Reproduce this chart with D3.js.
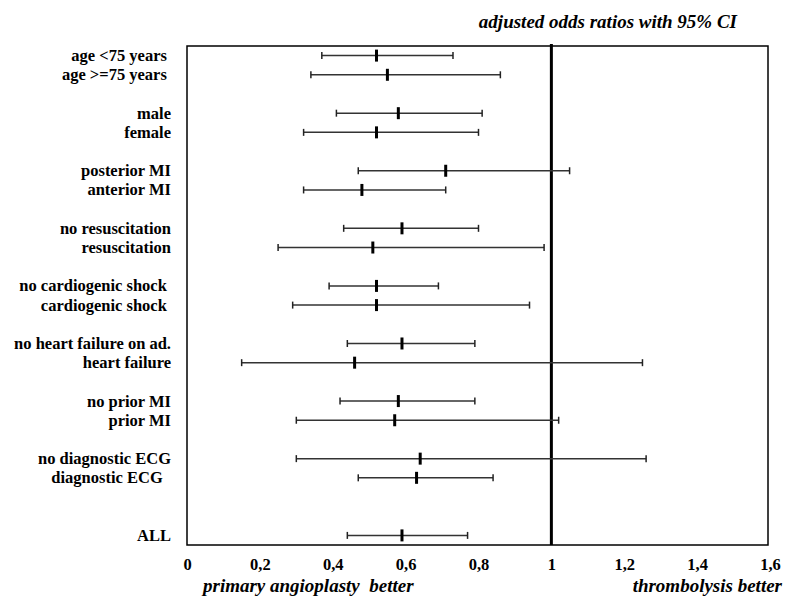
<!DOCTYPE html>
<html>
<head>
<meta charset="utf-8">
<script src="https://cdn.jsdelivr.net/npm/d3@7"></script>
<style>
  body { margin: 0; background: #fff; }
  text { font-family: "Liberation Serif", "Times New Roman", serif; font-weight: bold; }
</style>
</head>
<body>
<svg id="forest-chart" width="798" height="597"></svg>
<script>
// subgroup labels (trailing spaces kept as in original)
const labels = [
  "age <75 years\u00a0", "age >=75 years\u00a0",
  "male", "female",
  "posterior MI", "anterior MI",
  "no resuscitation", "resuscitation",
  "no cardiogenic shock\u00a0", "cardiogenic shock\u00a0",
  "no heart failure on ad.", "heart failure",
  "no prior MI", "prior MI",
  "no diagnostic ECG", "diagnostic ECG\u00a0\u00a0",
  "ALL"
];
// row slot of each label (gaps between pairs)
const slots = [0, 1, 3, 4, 6, 7, 9, 10, 12, 13, 15, 16, 18, 19, 21, 22, 25];
const oddsRatio = [0.52, 0.55, 0.58, 0.52, 0.71, 0.48, 0.59, 0.51, 0.52, 0.52, 0.59, 0.46, 0.58, 0.57, 0.64, 0.63, 0.59];
const ciLow     = [0.37, 0.34, 0.41, 0.32, 0.47, 0.32, 0.43, 0.25, 0.39, 0.29, 0.44, 0.15, 0.42, 0.30, 0.30, 0.47, 0.44];
const ciHigh    = [0.73, 0.86, 0.81, 0.80, 1.05, 0.71, 0.80, 0.98, 0.69, 0.94, 0.79, 1.25, 0.79, 1.02, 1.26, 0.84, 0.77];
const tickValues = [0, 0.2, 0.4, 0.6, 0.8, 1, 1.2, 1.4, 1.6];

const rows = labels.map((label, i) => ({
  label, slot: slots[i], or: oddsRatio[i], lo: ciLow[i], hi: ciHigh[i]
}));

const svg = d3.select("#forest-chart");

const x = d3.scaleLinear().domain([0, 1.6]).range([187, 770]);
const y = d3.scaleLinear().domain([-0.5, 25.5]).range([46, 545]);

const fmt = d3.formatLocale({ decimal: ",", thousands: ".", grouping: [3], currency: ["", ""] }).format("~g");

// frame
svg.append("rect")
  .attr("x", x(0)).attr("y", y(-0.5))
  .attr("width", 768 - x(0)).attr("height", y(25.5) - y(-0.5))
  .attr("fill", "none").attr("stroke", "#000").attr("stroke-width", 1.5);

// reference line at OR = 1
svg.append("line")
  .attr("x1", x(1)).attr("x2", x(1))
  .attr("y1", y(-0.5) - 2).attr("y2", y(25.5))
  .attr("stroke", "#000").attr("stroke-width", 3);

const g = svg.append("g");

const row = g.selectAll(".row").data(rows).enter().append("g").attr("class", "row");

row.append("line")
  .attr("x1", d => x(d.lo)).attr("x2", d => x(d.hi))
  .attr("y1", d => y(d.slot)).attr("y2", d => y(d.slot))
  .attr("stroke", "#333").attr("stroke-width", 1.5);

["lo", "hi"].forEach(k => {
  row.append("line")
    .attr("x1", d => x(d[k])).attr("x2", d => x(d[k]))
    .attr("y1", d => y(d.slot) - 3.5).attr("y2", d => y(d.slot) + 3.5)
    .attr("stroke", "#222").attr("stroke-width", 1.5);
});

row.append("line")
  .attr("x1", d => x(d.or)).attr("x2", d => x(d.or))
  .attr("y1", d => y(d.slot) - 6).attr("y2", d => y(d.slot) + 6)
  .attr("stroke", "#000").attr("stroke-width", 3);

row.append("text")
  .attr("x", 171)
  .attr("y", d => y(d.slot))
  .attr("dy", "0.33em")
  .attr("text-anchor", "end")
  .style("font-size", "16.5px")
  .text(d => d.label);

// x axis labels
const axis = svg.append("g")
  .attr("transform", `translate(0,${y(25.5)})`)
  .call(d3.axisBottom(x).tickValues(tickValues).tickSize(0).tickPadding(13).tickFormat(fmt));
axis.select(".domain").remove();
axis.selectAll("text")
  .attr("fill", "#000")
  .style("font-size", "16.5px")
  .style("font-family", "'Liberation Serif', serif")
  .style("font-weight", "bold");

svg.append("text")
  .attr("x", 203).attr("y", 592)
  .style("font-size", "19px").style("font-style", "italic")
  .style("white-space", "pre")
  .text("primary angioplasty  better");

svg.append("text")
  .attr("x", 782).attr("y", 592)
  .attr("text-anchor", "end")
  .style("font-size", "19px").style("font-style", "italic")
  .text("thrombolysis better");

svg.append("text")
  .attr("x", 737).attr("y", 28)
  .attr("text-anchor", "end")
  .style("font-size", "19px").style("font-style", "italic")
  .text("adjusted odds ratios with 95% CI");
</script>
</body>
</html>
